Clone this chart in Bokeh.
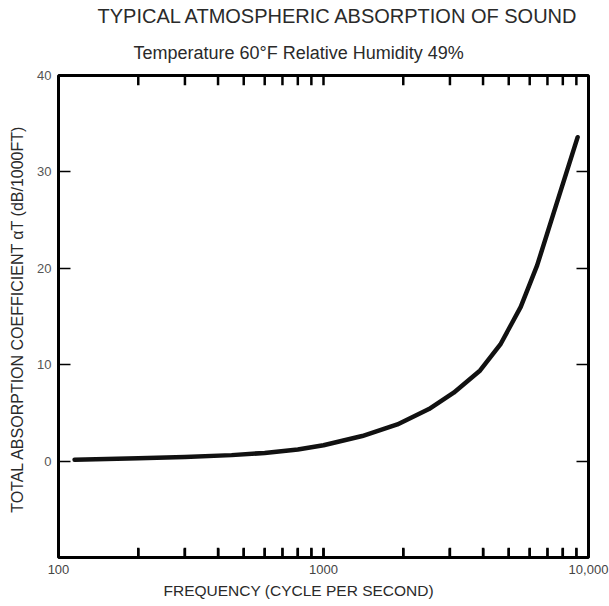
from bokeh.plotting import figure
from bokeh.models import LogAxis, LinearAxis, FixedTicker, Title, ColumnDataSource
from bokeh.embed import file_html
from bokeh.resources import INLINE

# ---- data ----
freq = [115, 200, 300, 450, 600, 800, 1000, 1400, 1900, 2500, 3100, 3900, 4650, 5550, 6400, 7400, 9100]
alpha = [0.15, 0.3, 0.42, 0.62, 0.85, 1.2, 1.65, 2.6, 3.8, 5.4, 7.1, 9.4, 12.1, 16.0, 20.3, 25.8, 33.6]

x_major = [100, 1000, 10000]
x_minor = [200, 300, 400, 500, 600, 700, 800, 900, 1000,
           2000, 3000, 4000, 5000, 6000, 7000, 8000, 9000]
x_tick_labels = {100: "100", 1000: "1000", 10000: "10,000"}
y_ticks = [0, 10, 20, 30, 40]
y_right_ticks = [0, 10, 20, 30]

title_text = "TYPICAL ATMOSPHERIC ABSORPTION OF SOUND"
subtitle_text = "Temperature 60°F Relative Humidity 49%"
x_label = "FREQUENCY (CYCLE PER SECOND)"
y_label = "TOTAL ABSORPTION COEFFICIENT  αT (dB/1000FT)"

X_RANGE = (100, 10000)
Y_RANGE = (-10, 40)
TICK_LEN = 1.0  # inward tick length along y, in data units (~10 px)

FONT = "Liberation Sans"
TXT = "#2a2a2a"

p = figure(width=609, height=606, x_axis_type="log", x_range=X_RANGE, y_range=Y_RANGE,
           output_backend="svg", toolbar_location=None,
           x_axis_location=None, y_axis_location=None,
           min_border_left=58, min_border_right=21, min_border_top=75, min_border_bottom=49)
p.title = None
p.grid.visible = False
p.outline_line_color = "black"
p.outline_line_width = 3
p.background_fill_color = "white"
p.border_fill_color = "white"

# bottom axis: labels at decades
xa = LogAxis(ticker=FixedTicker(ticks=x_major, minor_ticks=x_minor),
             major_label_overrides=x_tick_labels,
             major_tick_in=9, major_tick_out=0, minor_tick_in=9, minor_tick_out=0,
             axis_line_color=None, major_tick_line_color="black", major_tick_line_width=2,
             minor_tick_line_color="black", minor_tick_line_width=2,
             major_label_text_font=FONT, major_label_text_font_size="13px",
             major_label_text_color="#444444", major_label_standoff=7)
p.add_layout(xa, "below")
# x-axis title, positioned slightly left of the frame centre as in the reference
p.add_layout(Title(text=x_label, align="left", offset=105, text_font=FONT, text_font_size="15.5px",
                   text_font_style="normal", text_color=TXT, standoff=6), "below")

# short inward tick marks along the top and bottom edges, at the ticker positions
tick_src = ColumnDataSource(dict(
    x=x_minor + x_minor,
    y0=[Y_RANGE[0]] * len(x_minor) + [Y_RANGE[1]] * len(x_minor),
    y1=[Y_RANGE[0] + TICK_LEN] * len(x_minor) + [Y_RANGE[1] - TICK_LEN] * len(x_minor),
))
p.segment(x0="x", y0="y0", x1="x", y1="y1", source=tick_src, line_color="black", line_width=2.5)

# titles (first added is closest to the plot)
p.add_layout(Title(text=subtitle_text, align="left", offset=75, text_font=FONT, text_font_size="18px",
                   text_font_style="normal", text_color=TXT, standoff=26), "above")
p.add_layout(Title(text=title_text, align="left", offset=39, text_font=FONT, text_font_size="20px",
                   text_font_style="normal", text_color=TXT, standoff=1), "above")

# left axis
ya = LinearAxis(ticker=FixedTicker(ticks=y_ticks, minor_ticks=[]),
                major_tick_in=12, major_tick_out=0, minor_tick_in=0, minor_tick_out=0,
                axis_line_color=None, major_tick_line_width=1.5,
                major_label_text_font=FONT, major_label_text_font_size="13px",
                major_label_text_color="#555555", major_label_standoff=7,
                axis_label=y_label, axis_label_text_font=FONT, axis_label_text_font_size="16px",
                axis_label_text_font_style="normal", axis_label_text_color=TXT,
                axis_label_standoff=8)
p.add_layout(ya, "left")

# right axis
ra = LinearAxis(ticker=FixedTicker(ticks=y_right_ticks, minor_ticks=[]),
                major_label_overrides={t: "" for t in y_right_ticks},
                major_tick_in=12, major_tick_out=0, minor_tick_in=0, minor_tick_out=0,
                axis_line_color=None, major_tick_line_width=1.5,
                major_label_text_font_size="1px", major_label_standoff=0)
p.add_layout(ra, "right")

src = ColumnDataSource(dict(x=freq, y=alpha))
p.line("x", "y", source=src, line_color="#111111", line_width=4.5, line_join="round", line_cap="round")

open("out.html", "w").write(file_html(p, INLINE))
